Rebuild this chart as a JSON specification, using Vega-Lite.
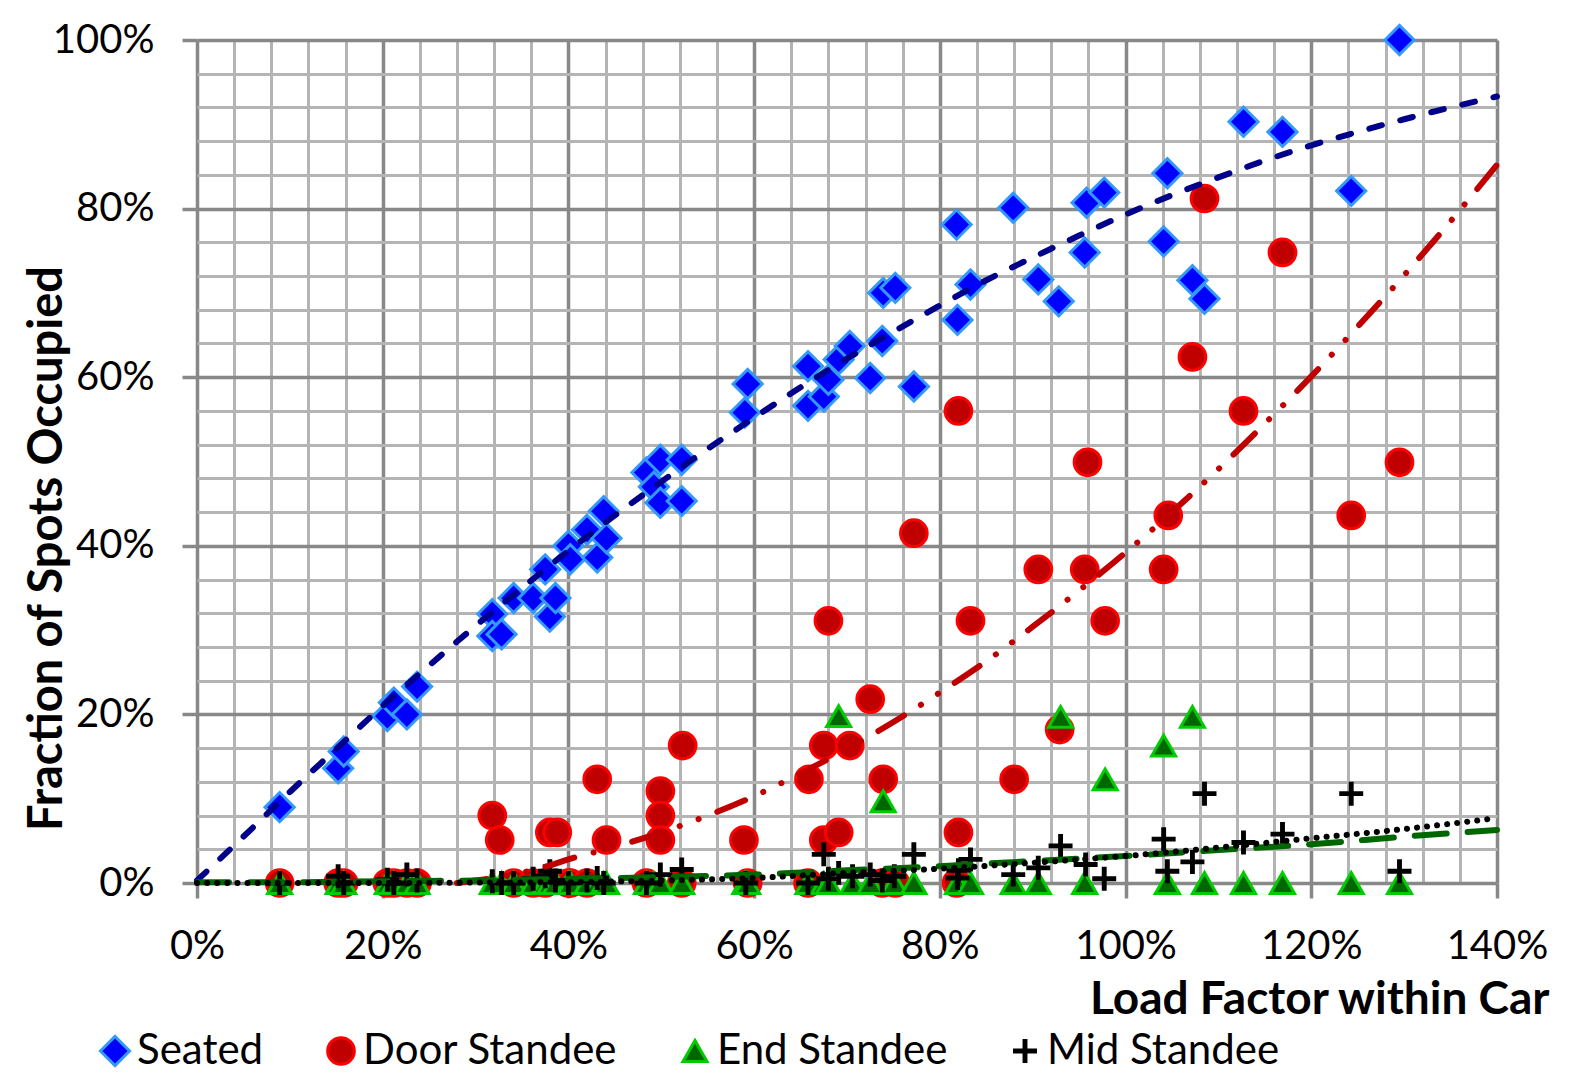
{
"$schema": "https://vega.github.io/schema/vega-lite/v6.json",
"width": 1300, "height": 843,
"autosize": {"type": "none"},
"padding": {"left": 197, "top": 40, "right": 79, "bottom": 192},
"background": "white",
"config": {"view": {"stroke": null}, "font": "Lato"},
"datasets": {
"pts": [
{"series":"Seated","load":8.9,"frac":9.0},{"series":"Seated","load":15.2,"frac":13.6},{"series":"Seated","load":15.8,"frac":15.6},{"series":"Seated","load":20.5,"frac":19.8},{"series":"Seated","load":21.2,"frac":21.4},{"series":"Seated","load":22.6,"frac":20.0},{"series":"Seated","load":23.7,"frac":23.3},{"series":"Seated","load":31.8,"frac":31.9},{"series":"Seated","load":31.8,"frac":29.3},{"series":"Seated","load":32.8,"frac":29.5},{"series":"Seated","load":34.1,"frac":33.8},{"series":"Seated","load":36.2,"frac":33.8},{"series":"Seated","load":37.5,"frac":37.2},{"series":"Seated","load":38.0,"frac":31.6},{"series":"Seated","load":38.6,"frac":33.8},{"series":"Seated","load":40.0,"frac":40.0},{"series":"Seated","load":40.2,"frac":38.4},{"series":"Seated","load":42.0,"frac":41.9},{"series":"Seated","load":43.1,"frac":38.6},{"series":"Seated","load":43.8,"frac":44.1},{"series":"Seated","load":44.1,"frac":40.9},{"series":"Seated","load":48.4,"frac":48.7},{"series":"Seated","load":49.2,"frac":47.0},{"series":"Seated","load":49.9,"frac":50.2},{"series":"Seated","load":49.9,"frac":45.1},{"series":"Seated","load":52.2,"frac":50.2},{"series":"Seated","load":52.2,"frac":45.3},{"series":"Seated","load":59.0,"frac":55.8},{"series":"Seated","load":59.3,"frac":59.2},{"series":"Seated","load":65.8,"frac":61.3},{"series":"Seated","load":65.8,"frac":56.6},{"series":"Seated","load":67.5,"frac":57.7},{"series":"Seated","load":68.0,"frac":59.7},{"series":"Seated","load":69.1,"frac":62.1},{"series":"Seated","load":70.3,"frac":63.7},{"series":"Seated","load":72.5,"frac":59.9},{"series":"Seated","load":73.8,"frac":64.3},{"series":"Seated","load":73.9,"frac":70.0},{"series":"Seated","load":75.2,"frac":70.6},{"series":"Seated","load":77.2,"frac":58.9},{"series":"Seated","load":81.8,"frac":78.1},{"series":"Seated","load":81.9,"frac":66.8},{"series":"Seated","load":83.3,"frac":71.0},{"series":"Seated","load":87.9,"frac":80.1},{"series":"Seated","load":90.6,"frac":71.6},{"series":"Seated","load":92.8,"frac":69.0},{"series":"Seated","load":95.6,"frac":74.8},{"series":"Seated","load":95.8,"frac":80.7},{"series":"Seated","load":97.7,"frac":81.9},{"series":"Seated","load":104.1,"frac":76.1},{"series":"Seated","load":104.5,"frac":84.2},{"series":"Seated","load":107.2,"frac":71.5},{"series":"Seated","load":108.5,"frac":69.3},{"series":"Seated","load":112.7,"frac":90.3},{"series":"Seated","load":116.9,"frac":89.1},{"series":"Seated","load":124.3,"frac":82.1},{"series":"Seated","load":129.5,"frac":100},
{"series":"Door Standee","load":8.9,"frac":0},{"series":"Door Standee","load":15.2,"frac":0},{"series":"Door Standee","load":15.8,"frac":0},{"series":"Door Standee","load":20.5,"frac":0},{"series":"Door Standee","load":21.2,"frac":0},{"series":"Door Standee","load":22.6,"frac":0},{"series":"Door Standee","load":23.7,"frac":0},{"series":"Door Standee","load":34.1,"frac":0},{"series":"Door Standee","load":36.2,"frac":0},{"series":"Door Standee","load":37.5,"frac":0},{"series":"Door Standee","load":40.0,"frac":0},{"series":"Door Standee","load":40.2,"frac":0},{"series":"Door Standee","load":42.0,"frac":0},{"series":"Door Standee","load":48.4,"frac":0},{"series":"Door Standee","load":52.2,"frac":0},{"series":"Door Standee","load":59.3,"frac":0},{"series":"Door Standee","load":65.8,"frac":0},{"series":"Door Standee","load":73.8,"frac":0},{"series":"Door Standee","load":75.2,"frac":0},{"series":"Door Standee","load":81.8,"frac":0},
{"series":"Door Standee","load":31.8,"frac":8.0},{"series":"Door Standee","load":32.6,"frac":5.1},{"series":"Door Standee","load":38.0,"frac":6.0},{"series":"Door Standee","load":38.8,"frac":6.0},{"series":"Door Standee","load":43.1,"frac":12.3},{"series":"Door Standee","load":44.1,"frac":5.1},{"series":"Door Standee","load":49.9,"frac":10.9},{"series":"Door Standee","load":49.9,"frac":8.0},{"series":"Door Standee","load":49.9,"frac":5.1},{"series":"Door Standee","load":52.3,"frac":16.3},{"series":"Door Standee","load":58.9,"frac":5.1},{"series":"Door Standee","load":65.9,"frac":12.3},{"series":"Door Standee","load":67.5,"frac":16.3},{"series":"Door Standee","load":67.5,"frac":5.1},{"series":"Door Standee","load":68.0,"frac":31.1},{"series":"Door Standee","load":69.1,"frac":6.0},{"series":"Door Standee","load":70.3,"frac":16.3},{"series":"Door Standee","load":72.5,"frac":21.8},{"series":"Door Standee","load":73.9,"frac":12.3},{"series":"Door Standee","load":77.2,"frac":41.5},{"series":"Door Standee","load":82.0,"frac":56.0},{"series":"Door Standee","load":82.0,"frac":6.0},{"series":"Door Standee","load":83.3,"frac":31.1},{"series":"Door Standee","load":88.0,"frac":12.3},{"series":"Door Standee","load":90.6,"frac":37.2},{"series":"Door Standee","load":92.9,"frac":18.2},{"series":"Door Standee","load":95.6,"frac":37.2},{"series":"Door Standee","load":95.9,"frac":49.9},{"series":"Door Standee","load":97.8,"frac":31.1},{"series":"Door Standee","load":104.1,"frac":37.2},{"series":"Door Standee","load":104.6,"frac":43.6},{"series":"Door Standee","load":107.2,"frac":62.4},{"series":"Door Standee","load":108.5,"frac":81.2},{"series":"Door Standee","load":112.7,"frac":56.0},{"series":"Door Standee","load":116.9,"frac":74.8},{"series":"Door Standee","load":124.3,"frac":43.6},{"series":"Door Standee","load":129.5,"frac":49.9},
{"series":"End Standee","load":8.9,"frac":0},{"series":"End Standee","load":15.2,"frac":0},{"series":"End Standee","load":15.8,"frac":0},{"series":"End Standee","load":20.5,"frac":0},{"series":"End Standee","load":21.2,"frac":0},{"series":"End Standee","load":22.6,"frac":0},{"series":"End Standee","load":23.7,"frac":0},{"series":"End Standee","load":31.8,"frac":0},{"series":"End Standee","load":32.8,"frac":0},{"series":"End Standee","load":34.1,"frac":0},{"series":"End Standee","load":36.2,"frac":0},{"series":"End Standee","load":37.5,"frac":0},{"series":"End Standee","load":38.0,"frac":0},{"series":"End Standee","load":38.6,"frac":0},{"series":"End Standee","load":40.0,"frac":0},{"series":"End Standee","load":40.2,"frac":0},{"series":"End Standee","load":42.0,"frac":0},{"series":"End Standee","load":43.1,"frac":0},{"series":"End Standee","load":43.8,"frac":0},{"series":"End Standee","load":44.1,"frac":0},{"series":"End Standee","load":48.4,"frac":0},{"series":"End Standee","load":49.2,"frac":0},{"series":"End Standee","load":49.9,"frac":0},{"series":"End Standee","load":52.2,"frac":0},{"series":"End Standee","load":59.0,"frac":0},{"series":"End Standee","load":59.3,"frac":0},{"series":"End Standee","load":65.8,"frac":0},{"series":"End Standee","load":67.5,"frac":0},{"series":"End Standee","load":68.0,"frac":0},{"series":"End Standee","load":70.6,"frac":0},{"series":"End Standee","load":72.5,"frac":0},{"series":"End Standee","load":75.1,"frac":0},{"series":"End Standee","load":77.2,"frac":0},{"series":"End Standee","load":81.9,"frac":0},{"series":"End Standee","load":83.3,"frac":0},{"series":"End Standee","load":87.9,"frac":0},{"series":"End Standee","load":90.6,"frac":0},{"series":"End Standee","load":95.6,"frac":0},{"series":"End Standee","load":104.5,"frac":0},{"series":"End Standee","load":108.5,"frac":0},{"series":"End Standee","load":112.7,"frac":0},{"series":"End Standee","load":116.9,"frac":0},{"series":"End Standee","load":124.3,"frac":0},{"series":"End Standee","load":129.5,"frac":0},
{"series":"End Standee","load":69.1,"frac":19.8},{"series":"End Standee","load":73.9,"frac":9.7},{"series":"End Standee","load":93.0,"frac":19.7},{"series":"End Standee","load":97.8,"frac":12.3},{"series":"End Standee","load":104.1,"frac":16.3},{"series":"End Standee","load":107.2,"frac":19.7},
{"series":"Mid Standee","load":8.9,"frac":0},{"series":"Mid Standee","load":15.2,"frac":0.8},{"series":"Mid Standee","load":15.8,"frac":0},{"series":"Mid Standee","load":20.5,"frac":0.4},{"series":"Mid Standee","load":21.2,"frac":0},{"series":"Mid Standee","load":22.6,"frac":1.0},{"series":"Mid Standee","load":23.7,"frac":0.3},{"series":"Mid Standee","load":31.8,"frac":0.2},{"series":"Mid Standee","load":32.8,"frac":0},{"series":"Mid Standee","load":34.1,"frac":0},{"series":"Mid Standee","load":36.2,"frac":0.5},{"series":"Mid Standee","load":37.5,"frac":0.8},{"series":"Mid Standee","load":38.0,"frac":1.4},{"series":"Mid Standee","load":38.6,"frac":0.3},{"series":"Mid Standee","load":40.0,"frac":0},{"series":"Mid Standee","load":42.0,"frac":0.3},{"series":"Mid Standee","load":43.1,"frac":0.6},{"series":"Mid Standee","load":43.8,"frac":0},{"series":"Mid Standee","load":48.4,"frac":0},{"series":"Mid Standee","load":49.9,"frac":1.0},{"series":"Mid Standee","load":52.2,"frac":1.6},{"series":"Mid Standee","load":59.1,"frac":0},{"series":"Mid Standee","load":65.8,"frac":0},{"series":"Mid Standee","load":67.5,"frac":3.4},{"series":"Mid Standee","load":68.0,"frac":0.5},{"series":"Mid Standee","load":69.1,"frac":1.2},{"series":"Mid Standee","load":70.6,"frac":0.8},{"series":"Mid Standee","load":72.5,"frac":1.0},{"series":"Mid Standee","load":73.8,"frac":0.3},{"series":"Mid Standee","load":75.1,"frac":0.8},{"series":"Mid Standee","load":77.2,"frac":3.4},{"series":"Mid Standee","load":81.9,"frac":0.6},{"series":"Mid Standee","load":82.0,"frac":1.5},{"series":"Mid Standee","load":83.3,"frac":2.8},{"series":"Mid Standee","load":87.9,"frac":1.0},{"series":"Mid Standee","load":90.6,"frac":1.8},{"series":"Mid Standee","load":93.0,"frac":4.4},{"series":"Mid Standee","load":95.7,"frac":2.2},{"series":"Mid Standee","load":97.7,"frac":0.5},{"series":"Mid Standee","load":104.1,"frac":5.2},{"series":"Mid Standee","load":104.5,"frac":1.4},{"series":"Mid Standee","load":107.2,"frac":2.5},{"series":"Mid Standee","load":108.5,"frac":10.6},{"series":"Mid Standee","load":112.7,"frac":4.8},{"series":"Mid Standee","load":116.9,"frac":5.8},{"series":"Mid Standee","load":124.3,"frac":10.6},{"series":"Mid Standee","load":129.5,"frac":1.4}
],
"trend": [
{"series":"Seated","load":0,"frac":0.3},{"series":"Seated","load":5,"frac":5.5},{"series":"Seated","load":10,"frac":10.8},{"series":"Seated","load":15,"frac":15.9},{"series":"Seated","load":20,"frac":21.0},{"series":"Seated","load":25,"frac":25.8},{"series":"Seated","load":30,"frac":30.5},{"series":"Seated","load":35,"frac":35.0},{"series":"Seated","load":40,"frac":39.4},{"series":"Seated","load":45,"frac":43.6},{"series":"Seated","load":50,"frac":47.6},{"series":"Seated","load":55,"frac":51.5},{"series":"Seated","load":60,"frac":55.2},{"series":"Seated","load":65,"frac":58.8},{"series":"Seated","load":70,"frac":62.2},{"series":"Seated","load":75,"frac":65.4},{"series":"Seated","load":80,"frac":68.5},{"series":"Seated","load":85,"frac":71.5},{"series":"Seated","load":90,"frac":74.2},{"series":"Seated","load":95,"frac":76.8},{"series":"Seated","load":100,"frac":79.3},{"series":"Seated","load":105,"frac":81.6},{"series":"Seated","load":110,"frac":83.7},{"series":"Seated","load":115,"frac":85.7},{"series":"Seated","load":120,"frac":87.5},{"series":"Seated","load":125,"frac":89.1},{"series":"Seated","load":130,"frac":90.6},{"series":"Seated","load":135,"frac":92.0},{"series":"Seated","load":140,"frac":93.3},
{"series":"Door Standee","load":28,"frac":0},{"series":"Door Standee","load":30,"frac":0.3},{"series":"Door Standee","load":32,"frac":0.6},{"series":"Door Standee","load":34,"frac":1.0},{"series":"Door Standee","load":36,"frac":1.5},{"series":"Door Standee","load":38,"frac":2.1},{"series":"Door Standee","load":40,"frac":2.8},{"series":"Door Standee","load":45,"frac":4.3},{"series":"Door Standee","load":50,"frac":6.0},{"series":"Door Standee","load":55,"frac":8.0},{"series":"Door Standee","load":60,"frac":10.3},{"series":"Door Standee","load":65,"frac":13.0},{"series":"Door Standee","load":70,"frac":15.9},{"series":"Door Standee","load":75,"frac":19.1},{"series":"Door Standee","load":80,"frac":22.6},{"series":"Door Standee","load":85,"frac":26.3},{"series":"Door Standee","load":90,"frac":30.4},{"series":"Door Standee","load":95,"frac":34.7},{"series":"Door Standee","load":100,"frac":39.2},{"series":"Door Standee","load":105,"frac":44.0},{"series":"Door Standee","load":110,"frac":49.1},{"series":"Door Standee","load":115,"frac":54.5},{"series":"Door Standee","load":120,"frac":60.1},{"series":"Door Standee","load":125,"frac":66.0},{"series":"Door Standee","load":130,"frac":72.1},{"series":"Door Standee","load":135,"frac":78.5},{"series":"Door Standee","load":140,"frac":85.2},
{"series":"End Standee","load":0,"frac":0.1},{"series":"End Standee","load":10,"frac":0.1},{"series":"End Standee","load":20,"frac":0.2},{"series":"End Standee","load":30,"frac":0.3},{"series":"End Standee","load":40,"frac":0.5},{"series":"End Standee","load":50,"frac":0.7},{"series":"End Standee","load":60,"frac":1.0},{"series":"End Standee","load":70,"frac":1.5},{"series":"End Standee","load":80,"frac":2.0},{"series":"End Standee","load":90,"frac":2.6},{"series":"End Standee","load":100,"frac":3.2},{"series":"End Standee","load":110,"frac":3.9},{"series":"End Standee","load":120,"frac":4.6},{"series":"End Standee","load":130,"frac":5.5},{"series":"End Standee","load":140,"frac":6.3},
{"series":"Mid Standee","load":0,"frac":0},{"series":"Mid Standee","load":10,"frac":0},{"series":"Mid Standee","load":20,"frac":0},{"series":"Mid Standee","load":30,"frac":0.05},{"series":"Mid Standee","load":40,"frac":0.1},{"series":"Mid Standee","load":50,"frac":0.3},{"series":"Mid Standee","load":60,"frac":0.6},{"series":"Mid Standee","load":70,"frac":1.2},{"series":"Mid Standee","load":80,"frac":1.7},{"series":"Mid Standee","load":90,"frac":2.4},{"series":"Mid Standee","load":100,"frac":3.2},{"series":"Mid Standee","load":110,"frac":4.2},{"series":"Mid Standee","load":120,"frac":5.3},{"series":"Mid Standee","load":130,"frac":6.4},{"series":"Mid Standee","load":140,"frac":7.7}
]
},
"layer": [
{
"data": {"name": "pts"},
"mark": {"type": "point", "filled": true, "strokeWidth": 3, "opacity": 1},
"encoding": {
"x": {"field": "load", "type": "quantitative", "scale": {"domain": [0, 140], "nice": false, "zero": false},
 "axis": {
  "values": [0,4,8,12,16,20,24,28,32,36,40,44,48,52,56,60,64,68,72,76,80,84,88,92,96,100,104,108,112,116,120,124,128,132,136,140],
  "tickCount": 200,
  "labelExpr": "datum.value % 20 === 0 ? datum.value + '%' : ''",
  "labelFlush": false, "labelOverlap": false,
  "labelFont": "Lato", "labelFontSize": 40, "labelColor": "#000000", "labelPadding": 28,
  "grid": true,
  "gridColor": {"condition": {"test": "datum.value % 20 === 0", "value": "#888888"}, "value": "#B4B4B4"},
  "gridWidth": {"condition": {"test": "datum.value % 20 === 0", "value": 3.5}, "value": 3},
  "ticks": true, "tickColor": "#888888", "tickWidth": 3.5, "tickSize": 15,
  "tickOpacity": {"condition": {"test": "datum.value % 20 === 0", "value": 1}, "value": 0},
  "domain": false,
  "title": "Load Factor within Car", "titleFont": "Lato", "titleFontSize": 46, "titleFontWeight": "bold", "titleColor": "#000000",
  "titleAlign": "right", "titleBaseline": "middle", "titleX": 1352, "titleY": 116
 }},
"y": {"field": "frac", "type": "quantitative", "scale": {"domain": [0, 100], "nice": false},
 "axis": {
  "values": [0,4,8,12,16,20,24,28,32,36,40,44,48,52,56,60,64,68,72,76,80,84,88,92,96,100],
  "tickCount": 200,
  "labelExpr": "datum.value % 20 === 0 ? datum.value + '%' : ''",
  "labelFlush": false, "labelOverlap": false,
  "labelFont": "Lato", "labelFontSize": 40, "labelColor": "#000000", "labelPadding": 28,
  "grid": true,
  "gridColor": {"condition": {"test": "datum.value % 20 === 0", "value": "#888888"}, "value": "#B4B4B4"},
  "gridWidth": {"condition": {"test": "datum.value % 20 === 0", "value": 3.5}, "value": 3},
  "ticks": true, "tickColor": "#888888", "tickWidth": 3.5, "tickSize": 15,
  "tickOpacity": {"condition": {"test": "datum.value % 20 === 0", "value": 1}, "value": 0},
  "domain": false,
  "title": "Fraction of Spots Occupied", "titleFont": "Lato", "titleFontSize": 47, "titleFontWeight": "bold", "titleColor": "#000000",
  "titleAngle": -90, "titleAlign": "center", "titleBaseline": "middle", "titleX": -150, "titleY": 508
 }},
"shape": {"field": "series", "type": "nominal",
 "scale": {"domain": ["Seated", "Door Standee", "End Standee", "Mid Standee"], "range": ["diamond", "circle", "triangle-up", "M-1,-0.09H-0.09V-1H0.09V-0.09H1V0.09H0.09V1H-0.09V0.09H-1Z"]},
 "legend": {"orient": "none", "legendX": -103, "legendY": 990, "direction": "horizontal", "title": null,
  "labelFont": "Lato", "labelFontSize": 42, "labelColor": "#000000", "labelOffset": 1, "columnPadding": 56, "labelLimit": 500,
  "symbolOpacity": 1}},
"fill": {"field": "series", "type": "nominal",
 "scale": {"domain": ["Seated", "Door Standee", "End Standee", "Mid Standee"], "range": ["#0000FF", "#C00000", "#006600", "#000000"]}},
"stroke": {"field": "series", "type": "nominal",
 "scale": {"domain": ["Seated", "Door Standee", "End Standee", "Mid Standee"], "range": ["#3399FF", "#FF0000", "#00CC00", "#000000"]}},
"strokeWidth": {"field": "series", "type": "nominal",
 "scale": {"domain": ["Seated", "Door Standee", "End Standee", "Mid Standee"], "range": [3, 3, 3, 0.5]}},
"size": {"field": "series", "type": "nominal",
 "scale": {"domain": ["Seated", "Door Standee", "End Standee", "Mid Standee"], "range": [850, 440, 700, 1400]}}
}
},
{
"data": {"name": "trend"},
"transform": [{"filter": "datum.series === 'Seated'"}],
"mark": {"type": "line", "stroke": "#00008B", "strokeWidth": 6, "strokeDash": [13, 19], "strokeCap": "round", "interpolate": "monotone"},
"encoding": {"x": {"field": "load", "type": "quantitative"}, "y": {"field": "frac", "type": "quantitative"}}
},
{
"data": {"name": "trend"},
"transform": [{"filter": "datum.series === 'Door Standee'"}],
"mark": {"type": "line", "stroke": "#C00000", "strokeWidth": 6, "strokeDash": [30, 20, 0.1, 20, 0.1, 20], "strokeCap": "round", "interpolate": "monotone"},
"encoding": {"x": {"field": "load", "type": "quantitative"}, "y": {"field": "frac", "type": "quantitative"}}
},
{
"data": {"name": "trend"},
"transform": [{"filter": "datum.series === 'End Standee'"}],
"mark": {"type": "line", "stroke": "#006600", "strokeWidth": 6, "strokeDash": [32, 21], "strokeCap": "round", "interpolate": "monotone"},
"encoding": {"x": {"field": "load", "type": "quantitative"}, "y": {"field": "frac", "type": "quantitative"}}
},
{
"data": {"name": "trend"},
"transform": [{"filter": "datum.series === 'Mid Standee'"}],
"mark": {"type": "line", "stroke": "#000000", "strokeWidth": 6, "strokeDash": [0.1, 10], "strokeCap": "round", "interpolate": "monotone"},
"encoding": {"x": {"field": "load", "type": "quantitative"}, "y": {"field": "frac", "type": "quantitative"}}
}
]
}
